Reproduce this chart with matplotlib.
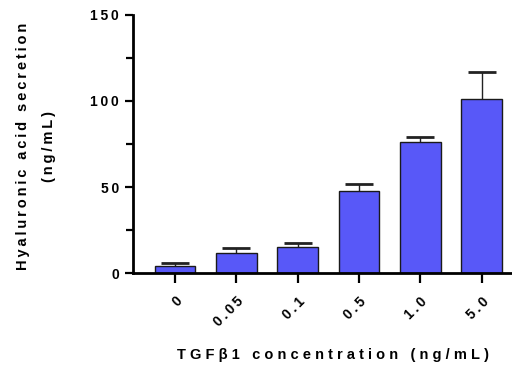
import numpy as np
import matplotlib
matplotlib.use("Agg")
import matplotlib.pyplot as plt
from matplotlib.ticker import MultipleLocator

# TGF-beta1 dose response, mean + upper SD
doses = ["0", "0.05", "0.1", "0.5", "1.0", "5.0"]
hyaluronic = [4.4, 11.6, 15.4, 47.9, 76.3, 101.1]
sd = [1.7, 3.3, 2.3, 4.1, 2.9, 15.8]
yticks = [0, 50, 100, 150]

bar_color = "#5858F8"
FONT = ["Liberation Sans", "DejaVu Sans"]
plt.rcParams["font.family"] = FONT
plt.rcParams["font.weight"] = "bold"

THIN = "\u2009"
WIDE = "\u2009\u200a"


def spaced(s, gap=THIN):
    # prism-style loose tracking
    return gap.join(s)


fig = plt.figure(figsize=(5.12, 3.66), dpi=100)
ax = fig.add_axes([133 / 512, 92.7 / 366, (512 - 133) / 512, (273.3 - 14.7) / 366])

x = np.arange(len(doses))
ax.bar(x, hyaluronic, width=0.66, color=bar_color, edgecolor="#1a1a1a",
       linewidth=1.0, zorder=2)
eb = ax.errorbar(x, hyaluronic, yerr=[np.zeros(len(sd)), sd], fmt="none",
                 ecolor="#222222", elinewidth=1.0, capsize=10, capthick=2.0,
                 zorder=1)
# only the upper whisker is shown
eb[1][0].set_visible(False)

ax.set_xlim(-0.685, 5.494)
ax.set_ylim(0, 150)

for side in ("top", "right"):
    ax.spines[side].set_visible(False)
for side in ("left", "bottom"):
    ax.spines[side].set_linewidth(2.0)
    ax.spines[side].set_color("black")

ax.yaxis.set_minor_locator(MultipleLocator(25))
ax.tick_params(axis="y", which="major", length=6, width=1.6, pad=4)
ax.tick_params(axis="y", which="minor", length=5, width=1.6)
ax.tick_params(axis="x", length=7, width=1.6, pad=8)

ax.set_yticks(yticks)
ax.set_yticklabels([spaced(str(v)) for v in yticks],
                   fontsize=10, fontweight="bold")
ax.set_xticks(x)
ax.set_xticklabels([spaced(d) for d in doses], fontsize=10, fontweight="bold",
                   rotation=45, ha="right", va="top", rotation_mode="anchor")

fig.text(36 / 512, 1 - 146 / 366,
         spaced("Hyaluronic acid secretion") + "\n" + spaced("(ng/mL)"),
         rotation=90, ha="center", va="center", fontsize=10.5, fontweight="bold",
         linespacing=2.0, multialignment="center")
fig.text(333 / 512, 1 - 355 / 366, spaced("TGF\u03b21 concentration (ng/mL)", WIDE),
         ha="center", va="center", fontsize=10.5, fontweight="bold")

fig.savefig("out.png", dpi=100)
